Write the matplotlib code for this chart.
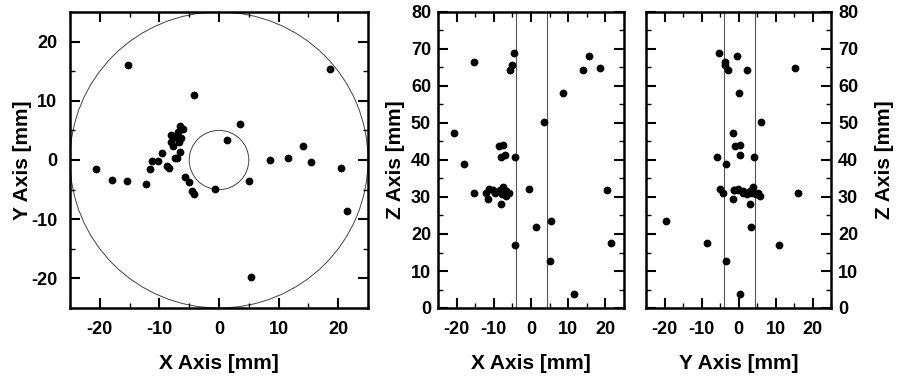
import numpy as np
import matplotlib
matplotlib.use("Agg")
import matplotlib.pyplot as plt
from matplotlib.ticker import MultipleLocator
from matplotlib.patches import Circle

# 3D point coordinates [mm]
x = [-15.2, 18.6, -4.2, 3.6, 1.3, 14.1, 11.5, 8.5, 15.5, 5.0,
     -0.6, 5.3, -20.7, -18.0, -15.4, -12.2, -11.6, -11.2, -10.2, -9.6,
     -8.7, -8.4, -8.1, -8.0, -7.4, -6.3, -6.9, -6.6, -6.0, -6.7,
     -7.7, -6.6, -7.4, -7.0, -5.7, -5.1, -4.6, -4.2, 20.5, 21.4]
y = [16.1, 15.4, 10.9, 6.0, 3.3, 2.4, 0.4, 0.0, -0.3, -3.5,
     -4.9, -19.7, -1.5, -3.3, -3.6, -4.1, -1.5, -0.2, -0.2, 1.1,
     -1.0, -1.3, 3.1, 4.2, 3.9, 3.7, 4.7, 5.8, 5.2, 3.0,
     2.4, 1.3, 0.4, 0.3, -2.9, -3.7, -5.3, -5.7, -1.3, -8.6]
z = [31.0, 64.9, 16.9, 50.2, 22.0, 64.4, 3.9, 58.1, 68.0, 12.7,
     32.1, 23.4, 47.3, 38.9, 66.5, 31.1, 29.4, 32.1, 31.8, 31.2,
     43.8, 31.9, 28.1, 40.7, 32.6, 31.2, 30.8, 30.3, 31.1, 31.5,
     30.8, 31.6, 44.1, 41.4, 64.3, 65.8, 68.9, 40.7, 32.0, 17.6]

outer_radius = 25.0
inner_radius = 5.0
band_lines = [-4.0, 4.4]
xy_ticks = [-20, -10, 0, 10, 20]
z_ticks = [0, 10, 20, 30, 40, 50, 60, 70, 80]

plt.rcParams['font.family'] = ['Liberation Sans', 'DejaVu Sans']
plt.rcParams['font.weight'] = 'bold'
plt.rcParams['axes.unicode_minus'] = False

W, H = 898, 382
fig = plt.figure(figsize=(W / 100, H / 100), dpi=100)

def frac(x0, x1, ytop, ybot):
    return [x0 / W, 1 - ybot / H, (x1 - x0) / W, (ybot - ytop) / H]

ax1 = fig.add_axes(frac(70, 368, 12, 308))
ax2 = fig.add_axes(frac(438, 624, 12, 308))
ax3 = fig.add_axes(frac(646, 831, 12, 308))

TICKFS = 13
LABFS = 15

def style(ax):
    for s in ax.spines.values():
        s.set_linewidth(1.8)
    ax.tick_params(which='both', direction='in', top=True, right=True,
                   labelsize=TICKFS, pad=9)
    ax.tick_params(which='major', length=7, width=1.5)
    ax.tick_params(which='minor', length=3.5, width=1.0)
    for lab in ax.get_xticklabels() + ax.get_yticklabels():
        lab.set_fontweight('bold')

msize = 5.6

# Left panel: X-Y
ax1.set_xlim(-25, 25)
ax1.set_ylim(-25, 25)
ax1.add_patch(Circle((0, 0), outer_radius, fill=False, lw=0.7, color='#444444'))
ax1.add_patch(Circle((0, 0), inner_radius, fill=False, lw=0.7, color='#444444'))
ax1.plot(x, y, 'o', color='black', ms=msize, mec='black', mew=0)
ax1.set_xticks(xy_ticks)
ax1.set_yticks(xy_ticks)
ax1.xaxis.set_minor_locator(MultipleLocator(5))
ax1.yaxis.set_minor_locator(MultipleLocator(5))
style(ax1)
ax1.set_xlabel('X Axis [mm]', fontsize=LABFS, fontweight='bold', labelpad=12)
ax1.set_ylabel('Y Axis [mm]', fontsize=LABFS, fontweight='bold')
ax1.yaxis.set_label_coords(-0.128, 0.5)

# Middle panel: X-Z
ax2.set_xlim(-25, 25)
ax2.set_ylim(0, 80)
for v in band_lines:
    ax2.axvline(v, color='#555555', lw=0.8)
ax2.plot(x, z, 'o', color='black', ms=msize, mec='black', mew=0)
ax2.set_xticks(xy_ticks)
ax2.set_yticks(z_ticks)
ax2.xaxis.set_minor_locator(MultipleLocator(5))
ax2.yaxis.set_minor_locator(MultipleLocator(5))
style(ax2)
ax2.tick_params(axis='y', pad=5)
ax2.set_xlabel('X Axis [mm]', fontsize=LABFS, fontweight='bold', labelpad=12)
ax2.set_ylabel('Z Axis [mm]', fontsize=LABFS, fontweight='bold', labelpad=4)

# Right panel: Y-Z
ax3.set_xlim(-25, 25)
ax3.set_ylim(0, 80)
for v in band_lines:
    ax3.axvline(v, color='#555555', lw=0.8)
ax3.plot(y, z, 'o', color='black', ms=msize, mec='black', mew=0)
ax3.set_xticks(xy_ticks)
ax3.set_yticks(z_ticks)
ax3.xaxis.set_minor_locator(MultipleLocator(5))
ax3.yaxis.set_minor_locator(MultipleLocator(5))
style(ax3)
ax3.tick_params(axis='y', pad=5, labelleft=False, labelright=True)
ax3.yaxis.set_label_position('right')
ax3.set_xlabel('Y Axis [mm]', fontsize=LABFS, fontweight='bold', labelpad=12)
ax3.set_ylabel('Z Axis [mm]', fontsize=LABFS, fontweight='bold', labelpad=12,
               rotation=90)
for lab in ax3.get_yticklabels():
    lab.set_fontweight('bold')

fig.savefig('out.png', dpi=100)
